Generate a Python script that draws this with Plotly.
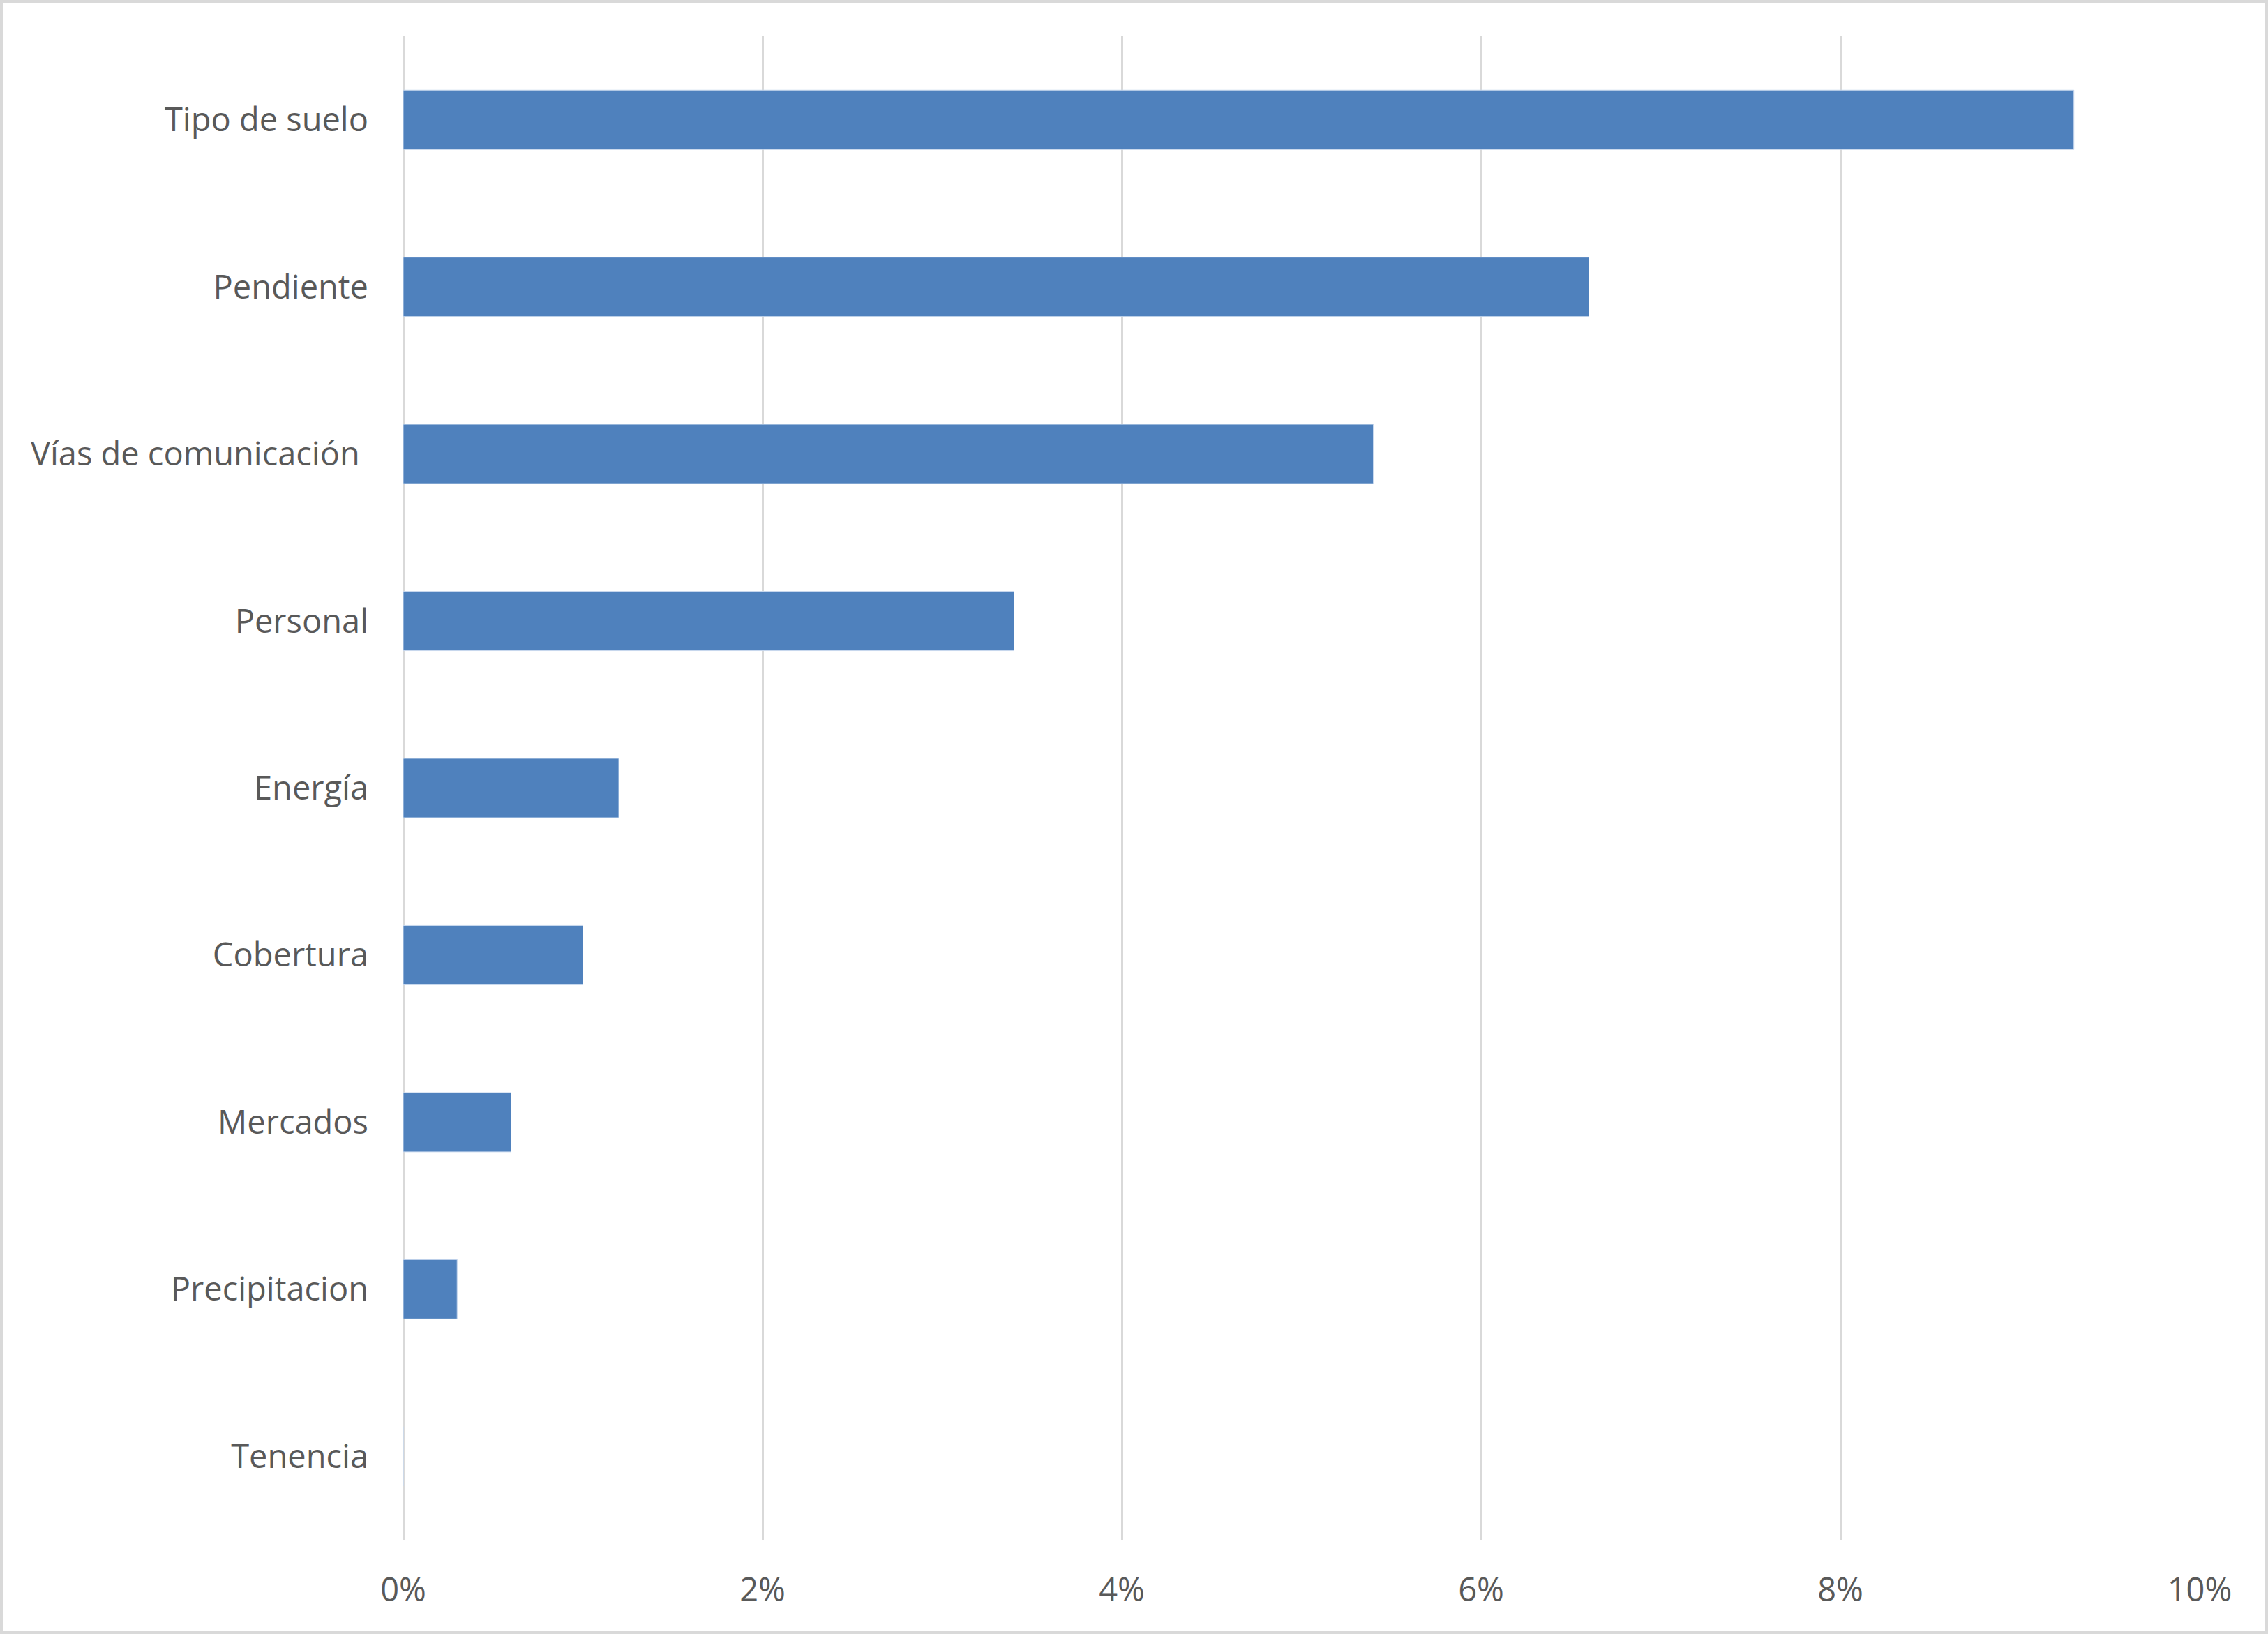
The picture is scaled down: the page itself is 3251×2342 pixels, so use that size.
import plotly.graph_objects as go

# Categories (top to bottom) and their shares
categorias = [
    "Tipo de suelo",
    "Pendiente",
    "Vías de comunicación\u00a0",
    "Personal",
    "Energía",
    "Cobertura",
    "Mercados",
    "Precipitacion",
    "Tenencia",
]
valores = [0.093, 0.066, 0.054, 0.034, 0.012, 0.010, 0.006, 0.003, 0.0]

x_ticks = [0, 0.02, 0.04, 0.06, 0.08, 0.10]

W, H = 3251, 2342
ml, mr, mt, mb = 578, 98, 52, 135

fig = go.Figure(
    go.Bar(
        x=valores,
        y=categorias,
        orientation="h",
        marker=dict(color="#4F81BD", line=dict(color="#C9D9EE", width=1)),
    )
)

grey = "#D9D9D9"
fig.update_layout(
    width=W,
    height=H,
    margin=dict(l=ml, r=mr, t=mt, b=mb),
    paper_bgcolor="white",
    plot_bgcolor="white",
    bargap=0.645,
    showlegend=False,
    font=dict(family="Open Sans", size=47, color="#595959"),
    xaxis=dict(
        range=[0, 0.10],
        tickvals=x_ticks,
        tickformat=".0%",
        showgrid=True,
        gridcolor=grey,
        gridwidth=3,
        zeroline=True,
        zerolinecolor=grey,
        zerolinewidth=3,
        showline=False,
        ticks="",
        ticklabelstandoff=40,
    ),
    yaxis=dict(
        categoryorder="array",
        categoryarray=categorias,
        autorange="reversed",
        showgrid=False,
        zeroline=False,
        showline=False,
        ticks="",
        ticklabelstandoff=49,
    ),
)

# light grey frame around the whole chart
pw = W - ml - mr
ph = H - mt - mb
fig.add_shape(
    type="rect",
    xref="paper",
    yref="paper",
    x0=(2 - ml) / pw,
    x1=(W - 2 - ml) / pw,
    y0=-(mb - 2) / ph,
    y1=1 + (mt - 2) / ph,
    line=dict(color=grey, width=4),
    fillcolor="rgba(0,0,0,0)",
    layer="above",
)

fig.write_html(
    "out.html",
    config={"displayModeBar": False},
    post_script="document.body.style.margin='0';",
)
